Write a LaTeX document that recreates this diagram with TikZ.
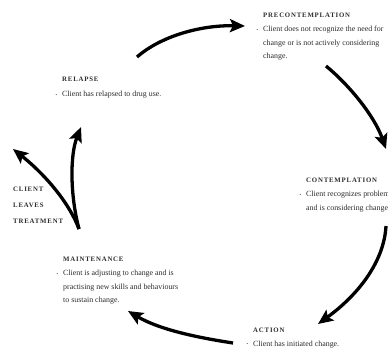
\documentclass[tikz,border=0pt]{standalone}
\usepackage{fontspec}
\setmainfont{Liberation Serif}
\newfontfamily\headfont[LetterSpace=12]{Liberation Serif}
\usetikzlibrary{arrows.meta}
\definecolor{txt}{HTML}{2B2B2B}
\newcommand\bul{\llap{\raisebox{0.6pt}{\scalebox{0.55}{\textbullet}}\hspace{5pt}}}
\begin{document}
\begin{tikzpicture}[x=1pt,y=-1pt,
  hd/.style={anchor=base west, inner sep=0pt, text=txt, font=\headfont\bfseries\fontsize{6.8}{8}\selectfont},
  bd/.style={anchor=base west, inner sep=0pt, text=txt, font=\fontsize{7.9}{9}\selectfont},
  arr/.style={line width=3.3pt, draw=black, -{Stealth[length=15pt,width=13pt,inset=3pt]}}]
\useasboundingbox (0,0) rectangle (388,352);
\clip (0,0) rectangle (388,352);

% Precontemplation
\node[hd] (pre) at (263,18) {PRECONTEMPLATION};
\node[bd] (pre1) at (263,32) {\bul Client does not recognize the need for};
\node[bd] (pre2) at (263,45.5) {change or is not actively considering};
\node[bd] (pre3) at (263,59) {change.};

% Contemplation
\node[hd] (con) at (306,183) {CONTEMPLATION};
\node[bd] (con1) at (306,197) {\bul Client recognizes problem};
\node[bd] (con2) at (306,210.5) {and is considering change.};

% Relapse
\node[hd] (rel) at (62,82) {RELAPSE};
\node[bd] (rel1) at (62,97) {\bul Client has relapsed to drug use.};

% Maintenance
\node[hd] (mai) at (63,262) {MAINTENANCE};
\node[bd] (mai1) at (63,276) {\bul Client is adjusting to change and is};
\node[bd] (mai2) at (63,289.5) {practising new skills and behaviours};
\node[bd] (mai3) at (63,303) {to sustain change.};

% Action
\node[hd] (act) at (253,333) {ACTION};
\node[bd] (act1) at (253,346) {\bul Client has initiated change.};

% Client leaves treatment
\node[hd] (cl1) at (13,192) {CLIENT};
\node[hd] (cl2) at (13,208) {LEAVES};
\node[hd] (cl3) at (13,224) {TREATMENT};

% arrow end points
\coordinate (t1) at (137,57);  \coordinate (h1) at (245,26);
\coordinate (t2) at (326,66);  \coordinate (h2) at (386,149);
\coordinate (t3) at (386,226); \coordinate (h3) at (318,324);
\coordinate (t4) at (233,343); \coordinate (h4) at (128,311);
\coordinate (b)  at (79,229);
\coordinate (h5) at (13,149);  \coordinate (h6) at (81,127);

\draw[arr] (t1) .. controls (161,36) and (201,25) .. (h1);
\draw[arr] (t2) .. controls (348,84) and (374,115) .. (h2);
\draw[arr] (t3) .. controls (384,262) and (358,295) .. (h3);
\draw[arr] (t4) .. controls (200,338) and (160,330) .. (h4);
\draw[arr] (b) .. controls (68,200) and (42,172) .. (h5);
\draw[arr] (b) .. controls (70,195) and (70,155) .. (h6);
\end{tikzpicture}
\end{document}
